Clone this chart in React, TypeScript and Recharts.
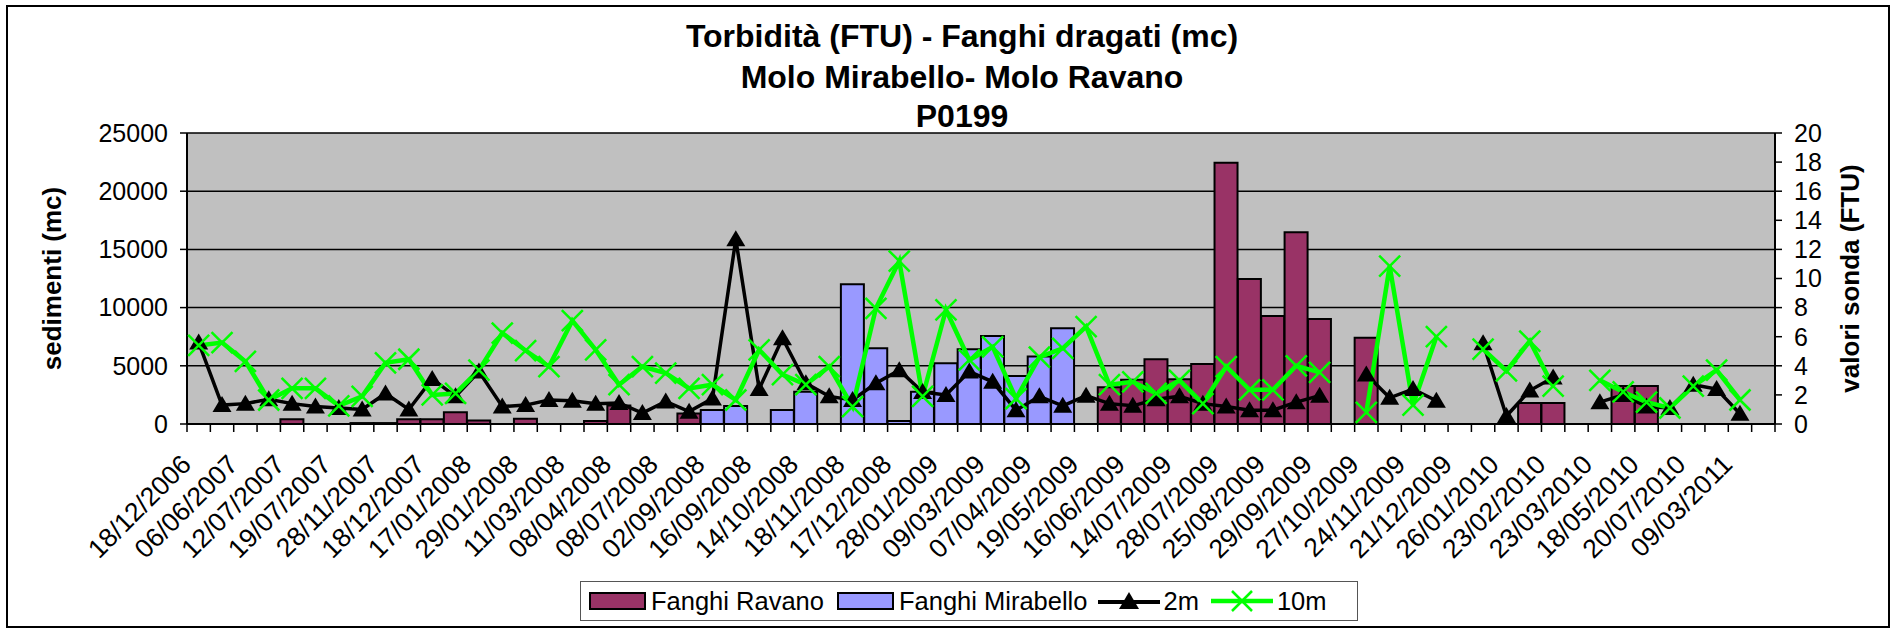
import React from 'react';
import { ComposedChart, Bar, Line, XAxis, YAxis, CartesianGrid, Legend } from 'recharts';

const FONT = '"Liberation Sans", Arial, sans-serif';

// one label every two categories, as in the original sheet
const dates = [
  '18/12/2006', '06/06/2007', '12/07/2007', '19/07/2007', '28/11/2007', '18/12/2007',
  '17/01/2008', '29/01/2008', '11/03/2008', '08/04/2008', '08/07/2008', '02/09/2008',
  '16/09/2008', '14/10/2008', '18/11/2008', '17/12/2008', '28/01/2009', '09/03/2009',
  '07/04/2009', '19/05/2009', '16/06/2009', '14/07/2009', '28/07/2009', '25/08/2009',
  '29/09/2009', '27/10/2009', '24/11/2009', '21/12/2009', '26/01/2010', '23/02/2010',
  '23/03/2010', '18/05/2010', '20/07/2010', '09/03/2011',
];

const ravano = [
  null, null, null, null, 400, null, null, 80, 80, 400,
  400, 1000, 300, null, 450, null, null, 250, 1600, null,
  null, 900, null, null, null, null, null, null, null, null,
  null, null, null, null, null, null, null, null, null, 3150,
  3800, 5560, 3840, 5160, 22450, 12450, 9270, 16480, 9030, null,
  7420, null, null, null, null, null, null, 1800, 1800, null,
  null, 3270, 3270, null, null, null, null, null,
];

const mirabello = [
  null, null, null, null, null, null, null, null, null, null,
  null, null, null, null, null, null, null, null, null, null,
  null, null, 1200, 1550, null, 1200, 2780, null, 12000, 6500,
  250, 2780, 5220, 6420, 7570, 4130, 5790, 8230, null, null,
  null, null, null, null, null, null, null, null, null, null,
  null, null, null, null, null, null, null, null, null, null,
  null, null, null, null, null, null, null, null,
];

const sonda2m = [
  5.6, 1.3, 1.4, 1.7, 1.4, 1.2, 1.1, 1.0, 2.1, 1.0,
  3.1, 1.9, 3.6, 1.2, 1.3, 1.65, 1.6, 1.4, 1.45, 0.75,
  1.55, 0.85, 1.75, 12.7, 2.4, 5.9, 2.8, 1.9, 1.65, 2.8,
  3.7, 2.2, 2.0, 3.6, 2.9, 0.95, 1.9, 1.25, 1.95, 1.4,
  1.25, 1.7, 1.9, 1.4, 1.2, 0.95, 0.95, 1.5, 1.95, null,
  3.4, 1.8, 2.4, 1.6, null, 5.55, 0.55, 2.3, 3.2, null,
  1.5, 2.0, 1.2, 1.1, 2.7, 2.4, 0.7, null,
];

const sonda10m = [
  5.4, 5.6, 4.3, 1.65, 2.45, 2.45, 1.25, 1.9, 4.2, 4.45,
  2.0, 2.1, 3.7, 6.25, 5.05, 3.95, 7.1, 5.1, 2.7, 3.95,
  3.5, 2.45, 2.7, 1.65, 5.1, 3.4, 2.7, 3.95, 1.2, 7.95,
  11.2, 1.9, 7.85, 4.4, 5.3, 1.75, 4.6, 5.2, 6.7, 2.7,
  2.9, 2.1, 3.0, 1.4, 3.95, 2.35, 2.35, 4.0, 3.55, null,
  0.8, 10.85, 1.3, 6.0, null, 5.15, 3.65, 5.7, 2.6, null,
  3.0, 2.2, 1.5, 1.1, 2.6, 3.7, 1.65, null,
];

const sedimentiTicks = [0, 5000, 10000, 15000, 20000, 25000];
const sondaTicks = [0, 2, 4, 6, 8, 10, 12, 14, 16, 18, 20];

const data = ravano.map((r, i) => ({
  i,
  ravano: r,
  mirabello: mirabello[i],
  m2: sonda2m[i],
  m10: sonda10m[i],
}));

const PLOT_LEFT = 187;
const PLOT_RIGHT = 1775;
const BW = (PLOT_RIGHT - PLOT_LEFT) / data.length;

const DateTick = ({ x, y, payload }: any) => {
  const i = payload.value;
  const label = i % 2 === 0 ? dates[i / 2] : null;
  const tx = x - 6;
  const ty = y + 42;
  return (
    <g>
      <line x1={x - BW / 2} y1={y} x2={x - BW / 2} y2={y + 8} stroke="#000" strokeWidth={1.5} />
      {i === data.length - 1 && (
        <line x1={x + BW / 2} y1={y} x2={x + BW / 2} y2={y + 8} stroke="#000" strokeWidth={1.5} />
      )}
      {label && (
        <text x={tx} y={ty} transform={`rotate(-45 ${tx} ${ty})`} textAnchor="end" fontSize={26.5} fill="#000">
          {label}
        </text>
      )}
    </g>
  );
};

const triangleDot = (props: any) => {
  const { cx, cy, index } = props;
  if (cx == null || cy == null) return <g key={'t' + index} />;
  return <path key={'t' + index} d={`M${cx},${cy - 9} L${cx + 9.5},${cy + 7} L${cx - 9.5},${cy + 7} Z`} fill="#000" />;
};

const crossDot = (props: any) => {
  const { cx, cy, index } = props;
  if (cx == null || cy == null) return <g key={'x' + index} />;
  return (
    <path
      key={'x' + index}
      d={`M${cx - 10.5},${cy - 10.5} L${cx + 10.5},${cy + 10.5} M${cx + 10.5},${cy - 10.5} L${cx - 10.5},${cy + 10.5}`}
      stroke="#00FF00"
      strokeWidth={2.5}
    />
  );
};

const Swatch = ({ color }: { color: string }) => (
  <span style={{ display: 'inline-block', width: 57, height: 18, background: color, border: '2px solid #000', boxSizing: 'border-box' }} />
);

const LegendBox = () => (
  <div
    style={{
      boxSizing: 'border-box', width: 778, height: 40, border: '1.5px solid #555', background: '#fff',
      display: 'flex', alignItems: 'center', paddingLeft: 8, fontSize: 25.5, fontFamily: FONT, color: '#000',
    }}
  >
    <Swatch color="#993366" />
    <span style={{ marginLeft: 5, marginRight: 13 }}>Fanghi Ravano</span>
    <Swatch color="#9999FF" />
    <span style={{ marginLeft: 5, marginRight: 11 }}>Fanghi Mirabello</span>
    <svg width={62} height={22}>
      <line x1={0} y1={12} x2={62} y2={12} stroke="#000" strokeWidth={4} />
      <path d="M31,2 L41,19 L21,19 Z" fill="#000" />
    </svg>
    <span style={{ marginLeft: 3, marginRight: 12 }}>2m</span>
    <svg width={62} height={22}>
      <line x1={0} y1={11} x2={62} y2={11} stroke="#00FF00" strokeWidth={4.5} />
      <path d="M21,1 L41,21 M41,1 L21,21" stroke="#00FF00" strokeWidth={2.5} />
    </svg>
    <span style={{ marginLeft: 4 }}>10m</span>
  </div>
);

const titleLine = (text: string, baseline: number) => (
  <div
    style={{
      position: 'absolute', left: 362, width: 1200, top: baseline - 27, textAlign: 'center',
      fontSize: 32, lineHeight: '32px', fontWeight: 'bold', color: '#000',
    }}
  >
    {text}
  </div>
);

export default function App() {
  return (
    <div style={{ position: 'absolute', left: 0, top: 0, width: 1897, height: 633, background: '#fff', fontFamily: FONT }}>
      <div style={{ position: 'absolute', left: 6, top: 5, width: 1884, height: 623, border: '2px solid #000', boxSizing: 'border-box' }} />
      {titleLine('Torbidità (FTU) - Fanghi dragati (mc)', 47)}
      {titleLine('Molo Mirabello- Molo Ravano', 88)}
      {titleLine('P0199', 127)}
      <ComposedChart
        width={1897}
        height={633}
        data={data}
        margin={{ top: 133, right: 0, bottom: 0, left: 0 }}
        barCategoryGap={0}
        barGap={0}
        style={{ position: 'absolute', left: 0, top: 0, fontFamily: FONT }}
      >
        <CartesianGrid yAxisId="left" vertical={false} stroke="#000" strokeWidth={1.5} fill="#C0C0C0" fillOpacity={1} />
        <XAxis
          dataKey="i"
          interval={0}
          tickLine={false}
          tickSize={0}
          tickMargin={0}
          height={169}
          axisLine={{ stroke: '#000', strokeWidth: 2 }}
          tick={(p: any) => <DateTick {...p} />}
        />
        <YAxis
          yAxisId="left"
          width={187}
          domain={[0, 25000]}
          ticks={sedimentiTicks}
          interval={0}
          tickSize={7}
          tickMargin={12}
          tick={{ fill: '#000', fontSize: 25 }}
          axisLine={{ stroke: '#000', strokeWidth: 2 }}
          tickLine={{ stroke: '#000', strokeWidth: 1.5 }}
          label={{ value: 'sedimenti (mc)', angle: -90, position: 'insideLeft', offset: 52, style: { textAnchor: 'middle', fontSize: 26, fontWeight: 'bold', fill: '#000' } }}
        />
        <YAxis
          yAxisId="right"
          orientation="right"
          width={122}
          domain={[0, 20]}
          ticks={sondaTicks}
          interval={0}
          tickSize={7}
          tickMargin={12}
          tick={{ fill: '#000', fontSize: 25 }}
          axisLine={{ stroke: '#000', strokeWidth: 2 }}
          tickLine={{ stroke: '#000', strokeWidth: 1.5 }}
          label={{ value: 'valori sonda (FTU)', angle: -90, position: 'insideRight', offset: 47, style: { textAnchor: 'middle', fontSize: 26, fontWeight: 'bold', fill: '#000' } }}
        />
        <Legend
          verticalAlign="bottom"
          content={() => <LegendBox />}
          wrapperStyle={{ left: 580, top: 581, width: 778, height: 40 }}
        />
        <Bar yAxisId="left" dataKey="ravano" name="Fanghi Ravano" stackId="s" fill="#993366" stroke="#000" strokeWidth={2} isAnimationActive={false} />
        <Bar yAxisId="left" dataKey="mirabello" name="Fanghi Mirabello" stackId="s" fill="#9999FF" stroke="#000" strokeWidth={2} isAnimationActive={false} />
        <Line yAxisId="right" dataKey="m2" name="2m" stroke="#000" strokeWidth={3.5} dot={triangleDot} activeDot={false} isAnimationActive={false} />
        <Line yAxisId="right" dataKey="m10" name="10m" stroke="#00FF00" strokeWidth={4.5} dot={crossDot} activeDot={false} isAnimationActive={false} />
      </ComposedChart>
    </div>
  );
}
